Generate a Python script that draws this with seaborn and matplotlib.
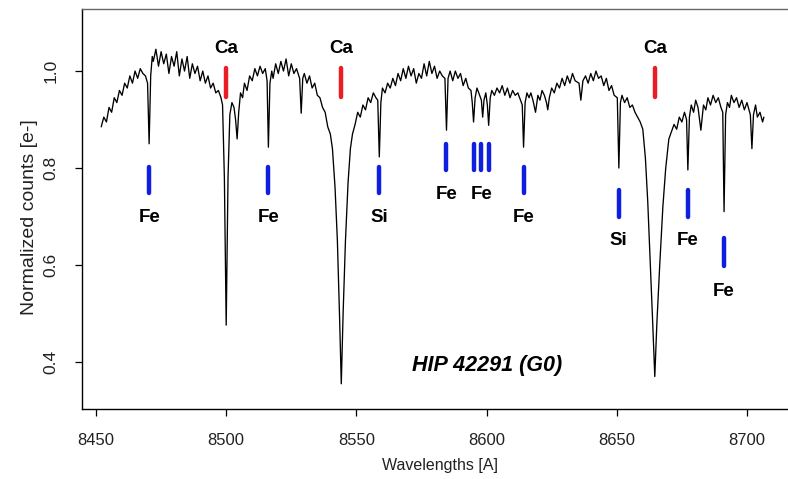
import matplotlib
matplotlib.use("Agg")
import matplotlib.pyplot as plt
import seaborn as sns
import pandas as pd

# ---------------- data ----------------
wavelength = [
    8452, 8453, 8454, 8455, 8456, 8457, 8458, 8459, 8460, 8461, 8462, 8463, 8464, 8465, 8466, 8467, 8468, 8469,
    8469.8, 8470.4, 8471.0, 8471.6, 8472, 8473, 8474, 8475, 8476, 8477, 8478, 8479, 8480, 8481, 8482, 8483,
    8484, 8485, 8486, 8487, 8488, 8489, 8490, 8491, 8492, 8493, 8494, 8495, 8496, 8497, 8498,
    8498.6, 8499.3, 8500.0, 8500.7, 8501.4, 8502.2, 8503.0, 8503.6, 8504.2, 8504.8, 8505.5, 8506.3,
    8507, 8508, 8509, 8510, 8511, 8512, 8513, 8514, 8515, 8515.7, 8516.2, 8516.8, 8517.5,
    8518, 8519, 8520, 8521, 8522, 8523, 8524, 8525, 8526, 8527, 8528.2, 8528.8, 8529.4,
    8530, 8531, 8532, 8533, 8534, 8535, 8536, 8537, 8538, 8539, 8540, 8540.8, 8541.8, 8542.7,
    8543.5, 8544.2, 8544.9, 8545.8, 8546.8, 8547.7, 8548.5, 8549.5, 8550.5, 8551.5, 8552.5, 8553.5,
    8554.5, 8555.5, 8556.5, 8557.5, 8558.2, 8558.8, 8559.4,
    8560, 8561, 8562, 8563, 8564, 8565, 8566, 8567, 8568, 8569, 8570, 8571, 8572, 8573, 8574, 8575,
    8576, 8577, 8578, 8579, 8580, 8581, 8582, 8583, 8584, 8584.6, 8585.2,
    8586, 8587, 8588, 8589, 8590, 8591, 8592, 8593, 8594, 8594.5, 8595.0, 8595.6, 8596.3, 8597,
    8598.0, 8598.5, 8599.0, 8599.7, 8600.3, 8600.8, 8601.4,
    8602, 8603, 8604, 8605, 8606, 8607, 8608, 8609, 8610, 8611, 8612, 8613, 8613.7, 8614.2, 8614.8,
    8615.5, 8616.3, 8617, 8617.8, 8618.8, 8619.7, 8620.5, 8621.3, 8622.2, 8623.0, 8623.5, 8624.1,
    8625, 8626, 8627, 8628, 8629, 8630, 8631, 8632, 8633, 8634, 8635.5, 8636.2, 8637,
    8638, 8639, 8640, 8641, 8642, 8643, 8644, 8645, 8646, 8647, 8648, 8649, 8650.2, 8650.8, 8651.4,
    8652, 8653, 8654, 8655, 8656, 8657, 8658, 8659, 8660, 8661, 8661.9, 8662.9, 8663.8, 8664.6,
    8665.4, 8666.5, 8667.7, 8668.8, 8670, 8671, 8672, 8673, 8674, 8675, 8676, 8676.8, 8677.3, 8677.9,
    8678.6, 8679.5, 8680.3, 8681.2, 8682.3, 8683.3, 8684.2, 8685, 8686, 8687, 8688, 8689, 8690,
    8690.7, 8691.2, 8691.8, 8692.5, 8693.3, 8694, 8695, 8696, 8697, 8698, 8699, 8700, 8701.3,
    8701.9, 8702.5, 8703.3, 8704, 8705, 8706, 8706.5,
]
flux = [
    0.885, 0.905, 0.895, 0.925, 0.915, 0.945, 0.935, 0.960, 0.950, 0.975, 0.965, 0.990, 0.975, 1.000, 0.985, 1.005, 0.995, 0.990,
    0.975, 0.850, 0.990, 1.030, 1.020, 1.045, 1.010, 1.040, 1.015, 1.035, 0.995, 1.030, 1.010, 1.040, 0.990, 1.025,
    1.000, 1.030, 0.985, 1.015, 0.995, 1.010, 0.980, 1.000, 0.975, 0.990, 0.965, 0.975, 0.955, 0.960, 0.945,
    0.930, 0.780, 0.476, 0.780, 0.910, 0.935, 0.925, 0.900, 0.860, 0.915, 0.955, 0.945,
    0.975, 0.960, 0.990, 0.980, 1.005, 0.990, 1.010, 0.995, 1.005, 0.980, 0.843, 0.975, 1.000,
    0.985, 1.015, 0.995, 1.020, 1.000, 1.025, 0.990, 1.015, 0.995, 1.005, 0.985, 0.913, 0.985,
    0.995, 0.975, 0.990, 0.965, 0.975, 0.950, 0.945, 0.925, 0.915, 0.885, 0.870, 0.840, 0.760, 0.650,
    0.500, 0.355, 0.500, 0.650, 0.770, 0.840, 0.870, 0.890, 0.915, 0.905, 0.930, 0.920,
    0.945, 0.935, 0.955, 0.945, 0.940, 0.823, 0.935,
    0.965, 0.955, 0.975, 0.965, 0.985, 0.970, 0.995, 0.980, 1.005, 0.985, 1.010, 0.990, 1.005, 0.975, 0.995, 0.985,
    1.015, 0.990, 1.020, 0.995, 1.010, 0.985, 1.000, 0.990, 0.985, 0.878, 0.985,
    1.000, 0.980, 1.000, 0.985, 0.995, 0.970, 0.985, 0.965, 0.960, 0.935, 0.895, 0.945, 0.965, 0.955,
    0.940, 0.905, 0.940, 0.955, 0.930, 0.888, 0.945,
    0.960, 0.950, 0.965, 0.955, 0.970, 0.950, 0.965, 0.945, 0.960, 0.950, 0.955, 0.940, 0.930, 0.843, 0.935,
    0.955, 0.945, 0.955, 0.940, 0.915, 0.950, 0.940, 0.960, 0.950, 0.935, 0.920, 0.945,
    0.965, 0.955, 0.975, 0.965, 0.985, 0.970, 0.990, 0.975, 0.995, 0.980, 0.975, 0.940, 0.980,
    0.990, 0.975, 0.995, 0.980, 1.000, 0.985, 0.990, 0.970, 0.985, 0.960, 0.970, 0.950, 0.945, 0.800, 0.935,
    0.950, 0.935, 0.945, 0.925, 0.930, 0.915, 0.905, 0.895, 0.880, 0.820, 0.730, 0.600, 0.480, 0.370,
    0.480, 0.600, 0.720, 0.800, 0.860, 0.875, 0.890, 0.880, 0.905, 0.895, 0.915, 0.900, 0.796, 0.905,
    0.930, 0.915, 0.940, 0.925, 0.878, 0.930, 0.920, 0.945, 0.930, 0.950, 0.935, 0.945, 0.925,
    0.915, 0.710, 0.910, 0.935, 0.925, 0.950, 0.935, 0.945, 0.925, 0.940, 0.920, 0.935, 0.910,
    0.840, 0.910, 0.930, 0.905, 0.915, 0.895, 0.905,
]

# line identifications
ca_lines = [8500.0, 8544.2, 8664.6]
ca_labels = ["Ca", "Ca", "Ca"]
marker_lines = [8470.4, 8516.2, 8558.8, 8584.6, 8595.0, 8598.0, 8601.0, 8614.2, 8650.8, 8677.3, 8691.2]
marker_labels = ["Fe", "Fe", "Si", "Fe", "", "Fe", "", "Fe", "Si", "Fe", "Fe"]
star_name = "HIP 42291 (G0)"

x_ticks = [8450, 8500, 8550, 8600, 8650, 8700]
y_ticks = [0.4, 0.6, 0.8, 1.0]
x_label = "Wavelengths [A]"
y_label = "Normalized counts [e-]"

# ---------------- layout (styling) ----------------
ca_bar = (0.946, 1.006)
ca_text_y = 1.047
marker_bar = [(0.748, 0.802), (0.748, 0.802), (0.748, 0.802), (0.796, 0.850), (0.796, 0.850),
              (0.796, 0.850), (0.796, 0.850), (0.748, 0.802), (0.700, 0.755), (0.700, 0.755), (0.598, 0.656)]
marker_text_y = [0.699, 0.699, 0.699, 0.746, 0.746, 0.746, 0.746, 0.699, 0.650, 0.650, 0.546]

RED = "#ec1c24"
BLUE = "#0f1fe0"
FONT = ["Liberation Sans", "DejaVu Sans"]

sns.set_style("ticks")
plt.rcParams["font.family"] = FONT

fig = plt.figure(figsize=(7.88, 4.79), dpi=100)
ax = fig.add_axes([82 / 788, 70 / 479, 716 / 788, 400 / 479])

df = pd.DataFrame({"wavelength": wavelength, "flux": flux})
sns.lineplot(data=df, x="wavelength", y="flux", color="black", linewidth=0.95,
             estimator=None, ax=ax)

for lam, lab in zip(ca_lines, ca_labels):
    ax.plot([lam, lam], ca_bar, color=RED, linewidth=3.2, solid_capstyle="round")
    ax.text(lam, ca_text_y, lab, ha="center", va="center", fontsize=13.5,
            fontweight="bold", color="black")

for lam, lab, (y0, y1), ty in zip(marker_lines, marker_labels, marker_bar, marker_text_y):
    ax.plot([lam, lam], [y0, y1], color=BLUE, linewidth=3.2, solid_capstyle="round")
    if lab:
        ax.text(lam, ty, lab, ha="center", va="center", fontsize=13.5,
                fontweight="bold", color="black")

ax.text(8600, 0.392, star_name, ha="center", va="center", fontsize=15.5,
        fontweight="bold", fontstyle="italic", color="black")

ax.set_xlim(8444.62, 8719.6)
ax.set_ylim(0.303, 1.128)
ax.set_xticks(x_ticks)
ax.set_yticks(y_ticks)
ax.set_xticklabels([str(t) for t in x_ticks], fontsize=12)
ax.set_yticklabels([f"{t:.1f}" for t in y_ticks], rotation=90, va="center", fontsize=12.5)
ax.tick_params(axis="both", direction="out", length=5, width=0.9,
               colors="black", labelcolor="#222222")
ax.tick_params(axis="x", pad=12.5)
ax.tick_params(axis="y", pad=12)
ax.set_xlabel(x_label, fontsize=11.5, labelpad=7, color="#222222")
ax.set_ylabel(y_label, fontsize=14, color="#222222")
ax.yaxis.set_label_coords(-0.062, 0.48)

for side in ["left", "bottom", "top"]:
    ax.spines[side].set_visible(True)
    ax.spines[side].set_linewidth(1.0)
    ax.spines[side].set_color("black")
ax.spines["top"].set_color("#666666")
ax.spines["right"].set_visible(False)

fig.savefig("out.png", dpi=100)
